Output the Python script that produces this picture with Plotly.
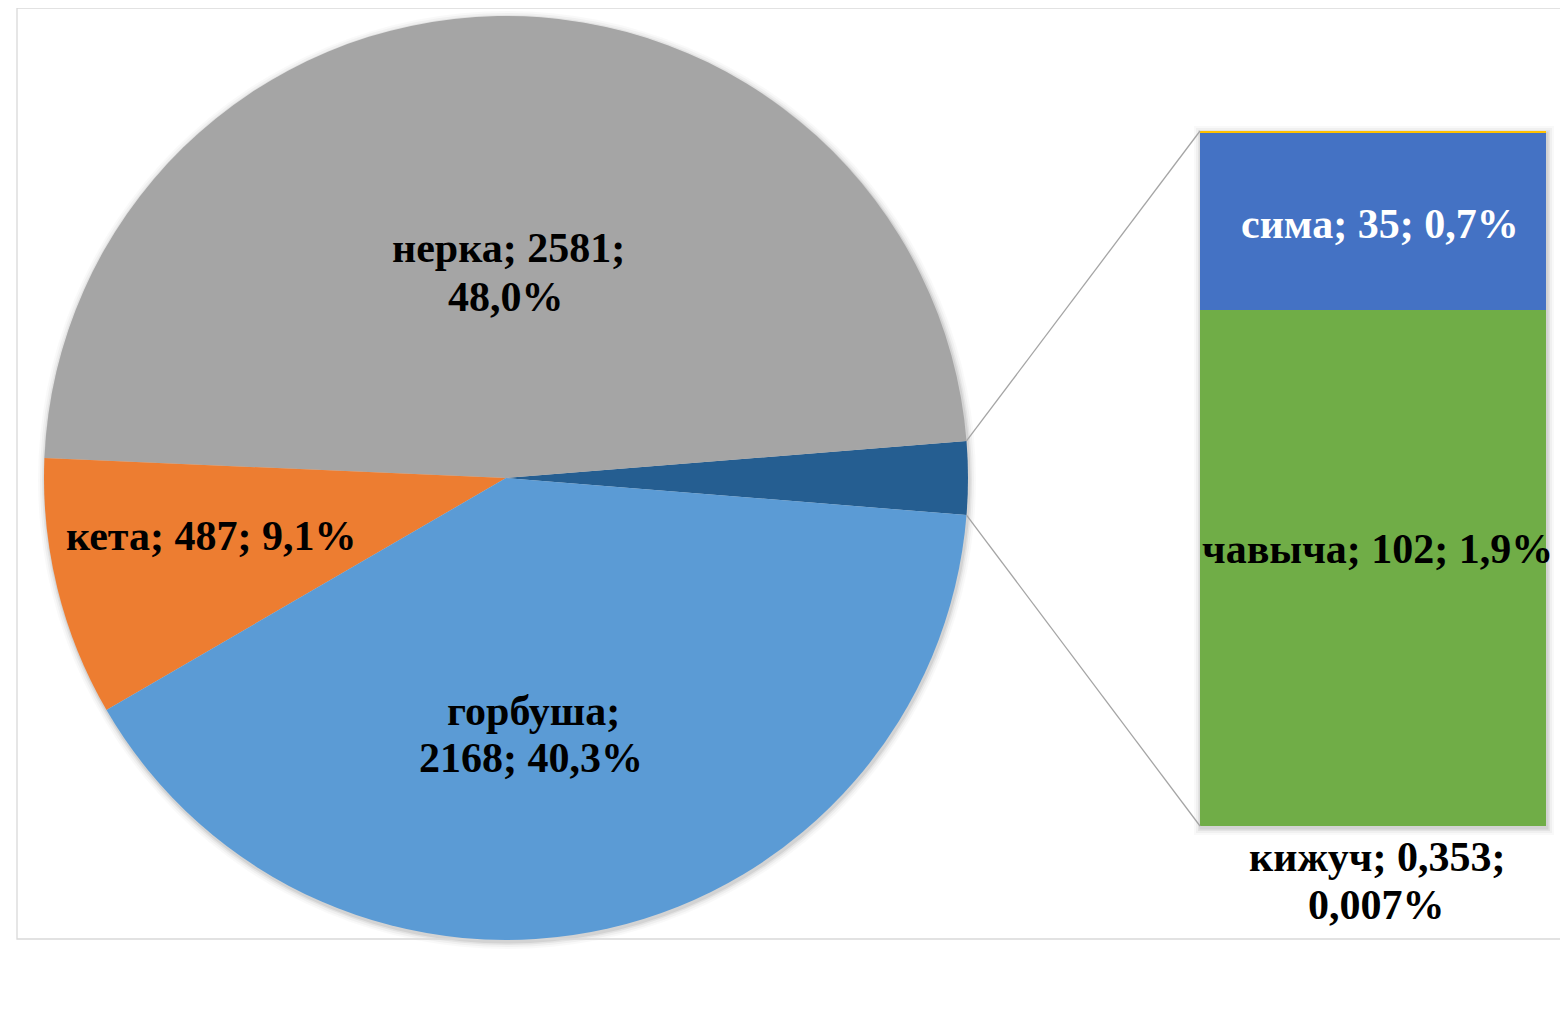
import math
import plotly.graph_objects as go

W, H = 1568, 1018
OFF = 8  # page body margin in the browser

# ---- data ----
pie_labels = ["нерка", "кета", "горбуша"]
pie_values = [2581, 487, 2168]
pie_pct = ["48,0%", "9,1%", "40,3%"]

bar_labels = ["кижуч", "сима", "чавыча"]          # top to bottom
bar_values = [0.353, 35, 102]
bar_pct = ["0,007%", "0,7%", "1,9%"]
bar_text_values = ["0,353", "35", "102"]

pie_colors = ["#A5A5A5", "#ED7D31", "#5B9BD5"]
other_color = "#255E91"
bar_colors = {"кижуч": "#FFC000", "сима": "#4472C4", "чавыча": "#70AD47"}

other_total = sum(bar_values)
grand_total = sum(pie_values) + other_total

# ---- geometry (screen pixels) ----
cx, cy, R = 506, 478, 462
bar_x0, bar_x1 = 1200, 1546
bar_y_top, bar_y_bot = 131, 826


def px(x):
    return (x - OFF) / W


def py(y):
    return 1 - (y - OFF) / H


FONT = "Liberation Serif, Times New Roman, serif"
FS = 42

fig = go.Figure()

half_other_deg = other_total / grand_total * 360 / 2

# soft shadows (drawn below)
for k, op in [(7, 0.025), (5, 0.035), (3, 0.05), (1.5, 0.07)]:
    fig.add_shape(type="circle", xref="paper", yref="paper",
                  x0=px(cx - R - k + 1), x1=px(cx + R + k + 1),
                  y0=py(cy + R + k + 2), y1=py(cy - R - k + 2),
                  fillcolor=f"rgba(0,0,0,{op})", line=dict(width=0), layer="below")
    fig.add_shape(type="rect", xref="paper", yref="paper",
                  x0=px(bar_x0 - k + 1), x1=px(bar_x1 + k + 1),
                  y0=py(bar_y_bot + k + 2), y1=py(bar_y_top - k + 2),
                  fillcolor=f"rgba(0,0,0,{op})", line=dict(width=0), layer="below")

fig.add_trace(go.Pie(
    labels=["другие"] + pie_labels,
    values=[other_total] + pie_values,
    marker=dict(colors=[other_color] + pie_colors, line=dict(width=0)),
    sort=False,
    direction="counterclockwise",
    rotation=90 - half_other_deg,
    textinfo="none",
    hoverinfo="skip",
    showlegend=False,
    domain=dict(x=[px(cx - R), px(cx + R)], y=[py(cy + R), py(cy - R)]),
))

# stacked bar (bottom to top)
for name in ["чавыча", "сима", "кижуч"]:
    v = bar_values[bar_labels.index(name)]
    fig.add_trace(go.Bar(
        x=[0], y=[v], width=[1],
        marker=dict(color=bar_colors[name], line=dict(width=0)),
        hoverinfo="skip", showlegend=False,
        xaxis="x", yaxis="y",
    ))

fig.update_layout(
    width=W, height=H,
    margin=dict(l=0, r=0, t=0, b=0),
    paper_bgcolor="white", plot_bgcolor="rgba(0,0,0,0)",
    barmode="stack",
    xaxis=dict(domain=[px(bar_x0), px(bar_x1)], range=[-0.5, 0.5],
               visible=False, fixedrange=True),
    yaxis=dict(domain=[py(bar_y_bot), py(bar_y_top)], range=[0, other_total],
               visible=False, fixedrange=True),
)

# connector lines from pie slice edges to bar corners
a = math.radians(half_other_deg)
p_top = (cx + R * math.cos(a), cy - R * math.sin(a))
p_bot = (cx + R * math.cos(a), cy + R * math.sin(a))
fig.add_shape(type="line", xref="paper", yref="paper",
              x0=px(p_top[0]), y0=py(p_top[1]), x1=px(bar_x0), y1=py(bar_y_top),
              line=dict(color="#A5A5A5", width=1.3), layer="above")
fig.add_shape(type="line", xref="paper", yref="paper",
              x0=px(p_bot[0]), y0=py(p_bot[1]), x1=px(bar_x0), y1=py(bar_y_bot),
              line=dict(color="#A5A5A5", width=1.3), layer="above")

# chart border
fig.add_shape(type="rect", xref="paper", yref="paper",
              x0=px(17), x1=px(1580), y0=py(939), y1=py(8),
              line=dict(color="#D9D9D9", width=1.3), layer="below")


def ann(x, y, text, color="black"):
    fig.add_annotation(x=px(x), y=py(y), xref="paper", yref="paper",
                       text=f"<b>{text}</b>", showarrow=False,
                       xanchor="center", yanchor="middle",
                       font=dict(family=FONT, size=FS, color=color), align="center")


ann(508, 248, f"{pie_labels[0]}; {pie_values[0]};")
ann(506, 297, pie_pct[0])
ann(211, 536, f"{pie_labels[1]}; {pie_values[1]}; {pie_pct[1]}")
ann(533, 711, f"{pie_labels[2]};")
ann(531, 758, f"{pie_values[2]}; {pie_pct[2]}")

ann(1380, 224, f"{bar_labels[1]}; {bar_text_values[1]}; {bar_pct[1]}", color="white")
ann(1377, 549, f"{bar_labels[2]}; {bar_text_values[2]}; {bar_pct[2]}")
ann(1377, 857, f"{bar_labels[0]}; {bar_text_values[0]};")
ann(1376, 905, bar_pct[0])

fig.write_html("out.html")
